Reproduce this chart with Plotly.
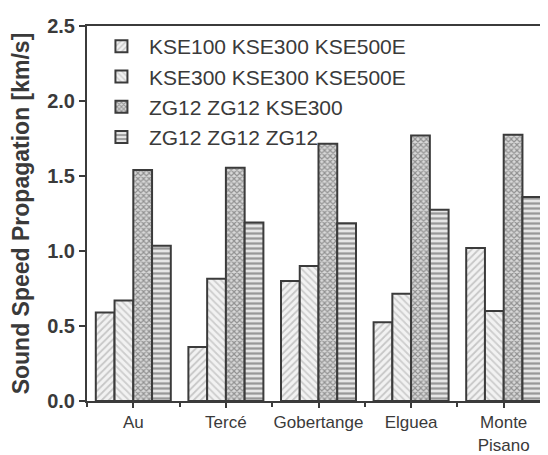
import plotly.graph_objects as go

categories = ["Au", "Tercé", "Gobertange", "Elguea", "Monte<br>Pisano"]
series_names = ["KSE100 KSE300 KSE500E", "KSE300 KSE300 KSE500E",
                "ZG12 ZG12 KSE300", "ZG12 ZG12 ZG12"]
s1 = [0.59, 0.36, 0.80, 0.525, 1.02]
s2 = [0.67, 0.815, 0.90, 0.715, 0.60]
s3 = [1.54, 1.555, 1.715, 1.77, 1.775]
s4 = [1.035, 1.19, 1.185, 1.275, 1.36]
y_ticks = [0.0, 0.5, 1.0, 1.5, 2.0, 2.5]

xpos = list(range(len(categories)))
edge = "#3b3b3b"
patterns = [
    dict(shape="/", fgcolor="#9a9a9a", bgcolor="#f2f2f2", size=5, solidity=0.35),
    dict(shape="\\", fgcolor="#a8a8a8", bgcolor="#f2f2f2", size=5, solidity=0.35),
    dict(shape="x", fgcolor="#4a4a4a", bgcolor="#d8d8d8", size=4, solidity=0.5),
    dict(shape="-", fgcolor="#4a4a4a", bgcolor="#e6e6e6", size=5, solidity=0.45),
]

fig = go.Figure()
for name, vals, pat in zip(series_names, [s1, s2, s3, s4], patterns):
    fig.add_trace(go.Bar(
        x=xpos, y=vals, name=name,
        marker=dict(color="white", line=dict(color=edge, width=2), pattern=pat),
    ))

fig.update_layout(
    width=548, height=455,
    margin=dict(l=79, r=6, t=18, b=62),
    paper_bgcolor="white", plot_bgcolor="white",
    barmode="group", bargap=0.19, bargroupgap=0,
    font=dict(family="Liberation Sans, Arial, sans-serif", color="#3a3a3a"),
    showlegend=True,
    legend=dict(x=0.015, y=1.0, xanchor="left", yanchor="top",
                bgcolor="rgba(0,0,0,0)", font=dict(size=21, color="#3a3a3a"),
                itemwidth=45, tracegroupgap=0),
)
fig.update_xaxes(
    range=[-0.5, 4.5], tickmode="array", tickvals=xpos, ticktext=categories,
    showline=True, linecolor=edge, linewidth=2, mirror=True,
    ticks="outside", ticklen=5, tickwidth=2, tickcolor=edge,
    minor=dict(ticks="outside", tick0=0.5, dtick=1, ticklen=4, tickwidth=1.5, tickcolor=edge),
    showgrid=False, zeroline=False,
    tickfont=dict(size=17, color="#3a3a3a"),
)
fig.update_yaxes(
    range=[0, 2.5], tickmode="array", tickvals=y_ticks,
    ticktext=[f"{v:.1f}" for v in y_ticks],
    showline=True, linecolor=edge, linewidth=2, mirror=False,
    ticks="outside", ticklen=6, tickwidth=2, tickcolor=edge,
    showgrid=False, zeroline=False,
    tickfont=dict(size=20, color="#3a3a3a", family="Liberation Sans, Arial, sans-serif", weight="bold"),
    title=dict(text="<b>Sound Speed Propagation [km/s]</b>", font=dict(size=23, color="#3a3a3a"), standoff=16),
)
fig.write_html("out.html")
